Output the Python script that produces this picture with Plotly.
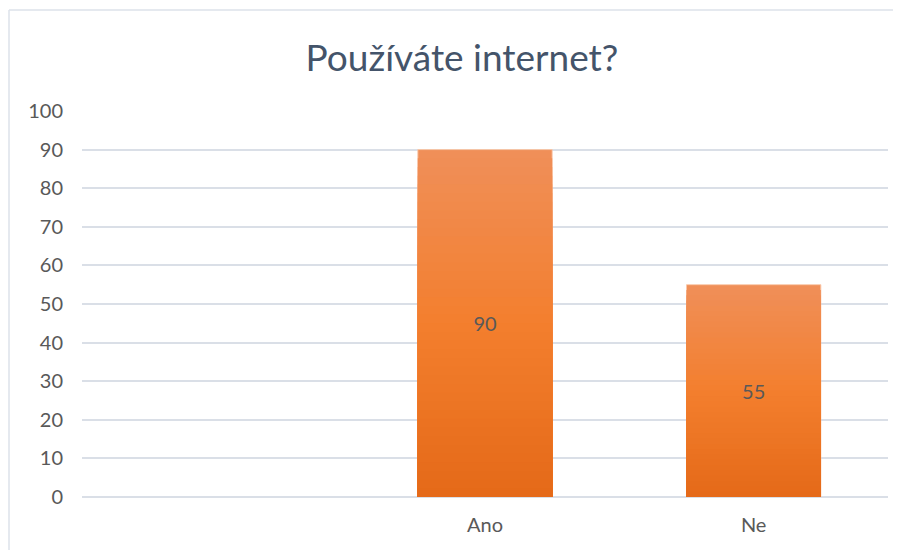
import plotly.graph_objects as go

categories = [" ", "Ano", "Ne"]
values = [None, 90, 55]
title_text = "Používáte internet?"
y_ticks = [0, 10, 20, 30, 40, 50, 60, 70, 80, 90, 100]

# gradient stops: (fraction of bar height, rgb)
stops = [(0.0, (228, 105, 24)), (0.5, (243, 126, 45)), (1.0, (240, 143, 88))]
N = 40

def grad(f):
    for (f0, c0), (f1, c1) in zip(stops[:-1], stops[1:]):
        if f0 <= f <= f1:
            t = (f - f0) / (f1 - f0)
            return tuple(round(c0[k] + (c1[k] - c0[k]) * t) for k in range(3))
    return stops[-1][1]

fig = go.Figure()
for i in range(N):
    f = 1 - i / N  # fraction of bar height (1 = top)
    c = grad(f)
    ys = [None if v is None else v * f for v in values]
    fig.add_trace(go.Bar(
        x=categories, y=ys,
        marker=dict(color="rgb(%d,%d,%d)" % c,
                    line=dict(color="rgba(250,200,170,0.9)" if i == 0 else "rgba(0,0,0,0)", width=1 if i == 0 else 0)),
        hoverinfo="skip", showlegend=False,
    ))
# label layer
fig.add_trace(go.Bar(
    x=categories, y=values,
    text=[None if v is None else str(v) for v in values],
    textposition="inside", insidetextanchor="middle",
    textfont=dict(family="Lato", size=20, color="#595959"),
    marker=dict(color="rgba(0,0,0,0)", line=dict(width=0)),
    showlegend=False,
))

# page has an 8px body offset; figure coordinates are page - 8
OFF = 8
W, H = 901 - OFF, 550 - OFF
L, R, T, B = 82 - OFF, 13, 111 - OFF, 53
pw, ph = W - L - R, H - T - B

def px_x(p):
    return (p - OFF - L) / pw

def px_y(p):
    return (H - B - (p - OFF)) / ph

border = dict(color="#DDE2EA", width=1.5)
fig.add_shape(type="line", xref="paper", yref="paper",
              x0=px_x(9), x1=px_x(920), y0=px_y(10), y1=px_y(10), line=border, layer="below")
fig.add_shape(type="line", xref="paper", yref="paper",
              x0=px_x(9), x1=px_x(9), y0=px_y(10), y1=px_y(570), line=border, layer="below")

fig.update_layout(
    width=W, height=H,
    margin=dict(l=L, r=R, t=T, b=B),
    paper_bgcolor="white", plot_bgcolor="white",
    barmode="overlay", bargap=0.5,
    title=dict(text=title_text, x=(462 - OFF) / W, xref="container", xanchor="center",
               y=1 - (58 - OFF) / H, yref="container", yanchor="middle",
               font=dict(family="Lato", size=37, color="#44546A")),
    font=dict(family="Lato", color="#595959"),
    xaxis=dict(type="category", range=[-0.5, 2.5], showgrid=False, showline=False,
               zeroline=False, tickfont=dict(family="Lato", size=20, color="#595959"),
               ticks="", ticklabelstandoff=14),
    yaxis=dict(range=[0, 100], tickvals=y_ticks, showgrid=True, gridcolor="#DADFE7",
               gridwidth=1.5, zeroline=True, zerolinecolor="#DADFE7", zerolinewidth=1.5,
               showline=False, ticks="", ticklabelstandoff=18,
               tickfont=dict(family="Lato", size=20, color="#595959")),
)

fig.write_html("out.html")
